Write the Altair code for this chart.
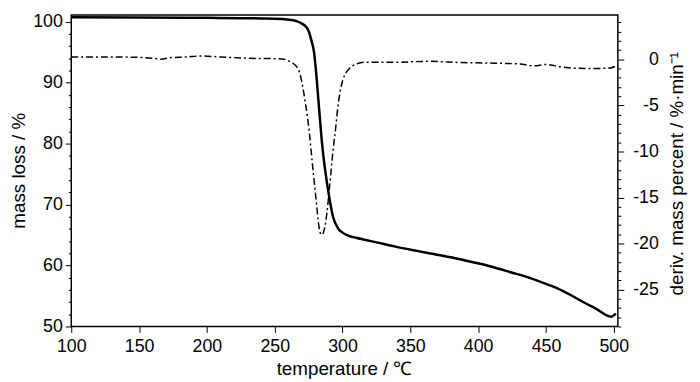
import altair as alt
import pandas as pd

# Mass loss (TG) curve, left axis
mass_temp = [100, 150, 200, 240, 255, 262, 266, 270, 273, 275, 277, 279, 281, 283, 285,
             287, 289, 291, 293, 295, 297, 300, 305, 310, 317, 325, 339, 355, 368, 383,
             397, 410, 424, 439, 450, 458, 467, 475, 487, 498, 501.5]
mass_val = [100.75, 100.7, 100.65, 100.55, 100.45, 100.3, 100.1, 99.7, 99.2, 98.5, 97.0, 95.0,
            90.5, 85.0, 79.8, 76.0, 72.9, 70.2, 68.0, 66.8, 66.0, 65.4, 64.85, 64.55, 64.2,
            63.8, 63.1, 62.4, 61.85, 61.2, 60.5, 59.8, 58.9, 57.9, 57.0, 56.3, 55.3, 54.3,
            52.9, 51.6, 52.1]

# Derivative (DTG) curve, right axis
dtg_temp = [100, 130, 150, 160, 166, 172, 185, 195, 210, 230, 250, 258, 262, 265, 268, 270,
            272, 274, 275.6, 277, 278.5, 280, 281, 282, 283, 284, 285, 286, 287, 288.5, 290,
            291.5, 293, 295, 296.5, 298, 300, 302.5, 305, 310, 317, 330, 339, 363, 388, 412,
            431, 441, 450, 465, 485, 497, 503]
dtg_val = [0.26, 0.26, 0.21, 0.12, 0.02, 0.16, 0.26, 0.36, 0.26, 0.12, 0.07, -0.03, -0.32,
           -0.61, -1.29, -2.45, -4.18, -6.12, -8.05, -10.17, -12.4, -14.52, -15.97, -17.42,
           -18.48, -18.96, -19.06, -18.77, -18.19, -16.65, -14.52, -12.2, -9.88, -7.37,
           -5.25, -3.7, -2.35, -1.48, -1.0, -0.51, -0.32, -0.32, -0.32, -0.22, -0.35, -0.42,
           -0.51, -0.71, -0.56, -0.9, -1.0, -0.95, -0.61]

x_ticks = list(range(100, 501, 25))
left_ticks = list(range(50, 101, 2))
right_ticks = list(range(-29, 5, 1))

FONT = "Liberation Sans"

mass_df = pd.DataFrame({"temperature": mass_temp, "mass": mass_val})
dtg_df = pd.DataFrame({"temperature": dtg_temp, "deriv": dtg_val})

x_enc = alt.X(
    "temperature:Q",
    scale=alt.Scale(domain=[100, 503], nice=False, zero=False),
    axis=alt.Axis(
        values=x_ticks,
        title="temperature / ℃",
        labelExpr="datum.value % 50 === 0 ? '' + datum.value : ''",
        tickSize={"condition": {"test": "datum.value % 50 === 0", "value": 6}, "value": 3},
        labelFlush=False,
        labelOverlap=False,
        labelPadding=5,
        titleX=276,
        titleY=43,
        titleAlign="center",
        titleBaseline="middle",
    ),
)

mass_line = alt.Chart(mass_df).mark_line(
    color="black", strokeWidth=2.5, interpolate="monotone"
).encode(
    x=x_enc,
    y=alt.Y(
        "mass:Q",
        scale=alt.Scale(domain=[50, 101.1], nice=False, zero=False),
        axis=alt.Axis(
            orient="left",
            values=left_ticks,
            title="mass loss / %",
            labelExpr="datum.value % 10 === 0 ? '' + datum.value : ''",
            tickSize={"condition": {"test": "datum.value % 10 === 0", "value": 6}, "value": 3},
            labelOverlap=False,
            labelPadding=3,
            titleX=-53,
            titleY=157,
            titleAngle=270,
            titleAlign="center",
            titleBaseline="middle",
        ),
    ),
)

dtg_line = alt.Chart(dtg_df).mark_line(
    color="black", strokeWidth=1.5, strokeDash=[7, 3, 2, 3], interpolate="monotone"
).encode(
    x=alt.X("temperature:Q", scale=alt.Scale(domain=[100, 503], nice=False, zero=False)),
    y=alt.Y(
        "deriv:Q",
        scale=alt.Scale(domain=[-29, 4.8], nice=False, zero=False),
        axis=alt.Axis(
            orient="right",
            values=right_ticks,
            title="deriv. mass percent / %·min⁻¹",
            labelExpr="datum.value % 5 === 0 ? '' + datum.value : ''",
            tickSize={"condition": {"test": "datum.value % 5 === 0", "value": 6}, "value": 3},
            labelOverlap=False,
            labelAlign="right",
            labelPadding=35,
            titleX=59,
            titleY=160,
            titleAngle=270,
            titleAlign="center",
            titleBaseline="middle",
        ),
    ),
)

chart = alt.layer(mass_line, dtg_line).resolve_scale(y="independent").properties(
    width=553,
    height=315,
    autosize=alt.AutoSizeParams(type="none"),
    padding={"left": 64, "top": 5, "right": 75, "bottom": 54},
).configure_view(
    stroke="black", strokeWidth=1.5
).configure_axis(
    domain=False,
    grid=False,
    tickColor="black",
    tickWidth=1,
    labelColor="black",
    titleColor="black",
    labelFont=FONT,
    titleFont=FONT,
    labelFontSize=18,
    titleFontSize=19,
    titleFontWeight="normal",
)

chart.save("out.html", embed_options={"renderer": "svg", "actions": False})
